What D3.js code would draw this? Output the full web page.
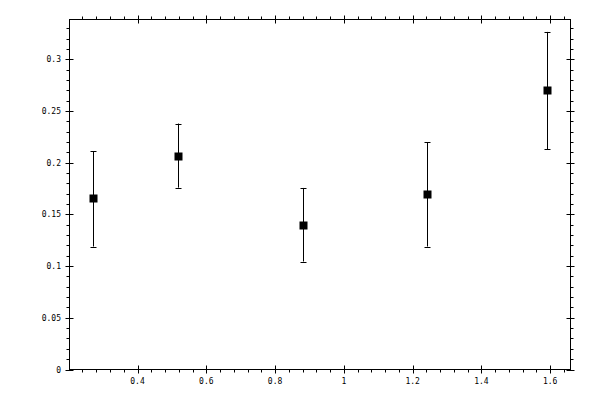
<!DOCTYPE html>
<html>
<head>
<meta charset="utf-8">
<script src="https://cdn.jsdelivr.net/npm/d3@7"></script>
<style>
  body { margin: 0; background: #fff; }
  text { font-family: 'DejaVu Sans Mono', monospace; font-size: 8px; fill: #000; }
</style>
</head>
<body>
<script>
// values
const xs    = [0.270, 0.519, 0.880, 1.241, 1.590];
const ys    = [0.1655, 0.207, 0.1403, 0.1694, 0.270];
const yLow  = [0.119, 0.176, 0.1045, 0.119, 0.2132];
const yHigh = [0.211, 0.238, 0.1757, 0.2197, 0.3267];

const xTicks = [0.4, 0.6, 0.8, 1, 1.2, 1.4, 1.6];
const yTicks = [0, 0.05, 0.1, 0.15, 0.2, 0.25, 0.3];

const width = 600;
const height = 400;

const x = d3.scaleLinear().domain([0.2022, 1.659]).range([69.5, 570.5]);
const y = d3.scaleLinear().domain([0, 0.3387]).range([369.5, 19.5]);

const svg = d3.select('body')
  .append('svg')
  .attr('width', width)
  .attr('height', height);

const fmt = d => d === 1 ? '1' : d3.format('~g')(d);

const xMinor = d3.range(0.24, 1.659, 0.04).filter(v => !xTicks.some(t => Math.abs(t - v) < 1e-6));
const yMinor = d3.range(0.01, 0.3387, 0.01).filter(v => !yTicks.some(t => Math.abs(t - v) < 1e-6));

// frame
svg.append('rect')
  .attr('x', x.range()[0])
  .attr('y', y.range()[1])
  .attr('width', x.range()[1] - x.range()[0])
  .attr('height', y.range()[0] - y.range()[1])
  .style('fill', 'none')
  .style('stroke', '#000')
  .style('stroke-width', 1);

const ticks = svg.append('g').style('stroke', '#000').style('stroke-width', 1);
const x0 = x.range()[0], x1 = x.range()[1], y0 = y.range()[0], y1 = y.range()[1];

// bottom + top
xTicks.forEach(t => {
  const px = Math.round(x(t)) + 0.5;
  ticks.append('line').attr('x1', px).attr('x2', px).attr('y1', y0 - 4).attr('y2', y0 + 4);
  ticks.append('line').attr('x1', px).attr('x2', px).attr('y1', y1 - 4).attr('y2', y1 + 4);
});
xMinor.forEach(t => {
  const px = Math.round(x(t)) + 0.5;
  ticks.append('line').attr('x1', px).attr('x2', px).attr('y1', y0).attr('y2', y0 + 3);
  ticks.append('line').attr('x1', px).attr('x2', px).attr('y1', y1 - 3).attr('y2', y1);
});
// left + right
yTicks.forEach(t => {
  const py = Math.round(y(t)) + 0.5;
  ticks.append('line').attr('x1', x0 - 4).attr('x2', x0 + 4).attr('y1', py).attr('y2', py);
  ticks.append('line').attr('x1', x1 - 4).attr('x2', x1 + 4).attr('y1', py).attr('y2', py);
});
yMinor.forEach(t => {
  const py = Math.round(y(t)) + 0.5;
  ticks.append('line').attr('x1', x0 - 3).attr('x2', x0).attr('y1', py).attr('y2', py);
  ticks.append('line').attr('x1', x1).attr('x2', x1 + 3).attr('y1', py).attr('y2', py);
});

svg.append('g').selectAll('text')
  .data(xTicks)
  .enter().append('text')
    .attr('x', d => x(d))
    .attr('y', 384)
    .attr('text-anchor', 'middle')
    .text(fmt);

svg.append('g').selectAll('text')
  .data(yTicks)
  .enter().append('text')
    .attr('x', 61)
    .attr('y', d => y(d) + 3)
    .attr('text-anchor', 'end')
    .text(fmt);

// error bars
const pts = xs.map((v, i) => ({ x: v, y: ys[i], lo: yLow[i], hi: yHigh[i] }));
const bars = svg.append('g').style('stroke', '#000').style('stroke-width', 1);
pts.forEach(d => {
  const px = Math.round(x(d.x)) + 0.5;
  bars.append('line').attr('x1', px).attr('x2', px).attr('y1', y(d.hi)).attr('y2', y(d.lo));
  bars.append('line').attr('x1', px - 3).attr('x2', px + 3).attr('y1', Math.round(y(d.hi)) + 0.5).attr('y2', Math.round(y(d.hi)) + 0.5);
  bars.append('line').attr('x1', px - 3).attr('x2', px + 3).attr('y1', Math.round(y(d.lo)) + 0.5).attr('y2', Math.round(y(d.lo)) + 0.5);
});

svg.append('g').selectAll('rect')
  .data(pts)
  .enter().append('rect')
    .attr('x', d => Math.round(x(d.x)) - 3.5)
    .attr('y', d => Math.round(y(d.y)) - 3.5)
    .attr('width', 8)
    .attr('height', 8)
    .style('fill', '#000');
</script>
</body>
</html>
